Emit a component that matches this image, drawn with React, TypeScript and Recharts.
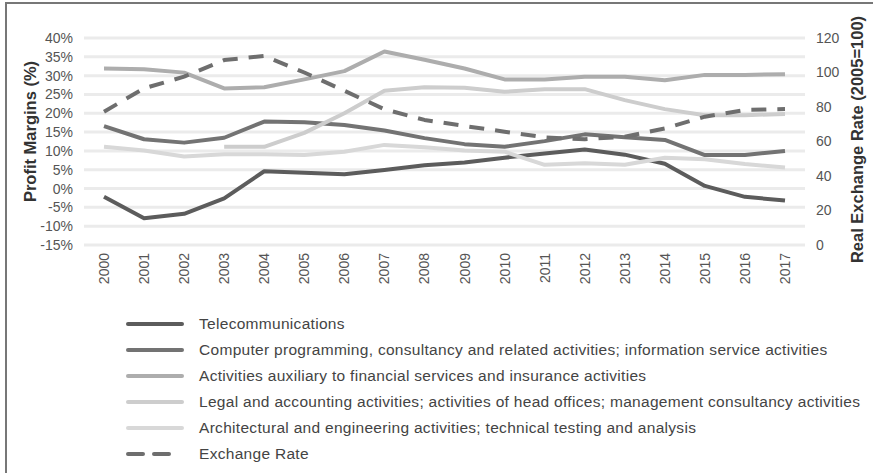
import React from 'react';
import { LineChart, Line, XAxis, YAxis, CartesianGrid } from 'recharts';

const years = ['2000', '2001', '2002', '2003', '2004', '2005', '2006', '2007', '2008', '2009', '2010', '2011', '2012', '2013', '2014', '2015', '2016', '2017'];

const telecom = [-2.2, -7.9, -6.7, -2.6, 4.6, 4.2, 3.8, 4.9, 6.2, 6.9, 8.2, 9.3, 10.4, 9.0, 6.6, 0.7, -2.2, -3.2];
const computing = [16.6, 13.1, 12.2, 13.5, 17.8, 17.6, 16.9, 15.4, 13.4, 11.8, 11.1, 12.6, 14.4, 13.6, 12.9, 8.9, 8.9, 10.0];
const financial = [31.9, 31.7, 30.8, 26.6, 26.9, 29.0, 31.2, 36.4, 34.2, 31.9, 29.0, 29.0, 29.7, 29.7, 28.8, 30.2, 30.2, 30.4];
const legal = [null, null, null, 11.1, 11.1, 14.8, 20.0, 26.0, 26.9, 26.8, 25.7, 26.4, 26.4, 23.5, 21.1, 19.5, 19.5, 19.8];
const architecture = [11.1, 10.1, 8.5, 9.1, 9.1, 8.9, 9.8, 11.6, 11.0, 10.1, 9.8, 6.3, 6.7, 6.3, 8.2, 7.8, 6.5, 5.6];
const exchangeRate = [77.3, 90.8, 97.6, 107.2, 109.6, 100, 89.4, 78.7, 72.5, 69.0, 65.7, 62.4, 61.3, 62.8, 67.6, 74.4, 78.3, 78.8];

const leftTicks = [-15, -10, -5, 0, 5, 10, 15, 20, 25, 30, 35, 40];
const rightTicks = [0, 20, 40, 60, 80, 100, 120];

const series = [
  { key: 'telecom', name: 'Telecommunications', color: '#5c5c5c', axis: 'left', dashed: false },
  { key: 'computing', name: 'Computer programming, consultancy and related activities; information service activities', color: '#737373', axis: 'left', dashed: false },
  { key: 'financial', name: 'Activities auxiliary to financial services and insurance activities', color: '#adadad', axis: 'left', dashed: false },
  { key: 'legal', name: 'Legal and accounting activities; activities of head offices; management consultancy activities', color: '#cdcdcd', axis: 'left', dashed: false },
  { key: 'architecture', name: 'Architectural and engineering activities; technical testing and analysis', color: '#d8d8d8', axis: 'left', dashed: false },
  { key: 'exchangeRate', name: 'Exchange Rate', color: '#6e6e6e', axis: 'right', dashed: true },
];

const data = years.map((year, i) => ({
  year,
  telecom: telecom[i],
  computing: computing[i],
  financial: financial[i],
  legal: legal[i],
  architecture: architecture[i],
  exchangeRate: exchangeRate[i],
}));

const FONT = '"Liberation Sans", Arial, sans-serif';
const DASH = '15 11';

const YearTick = ({ x, y, payload }: any) => (
  <text
    x={x}
    y={y}
    transform={`rotate(-90, ${x}, ${y})`}
    textAnchor="end"
    dominantBaseline="central"
    fontSize={14}
    fontFamily={FONT}
    fill="#555"
  >
    {payload.value}
  </text>
);

const AxisTitle = ({ viewBox, value, dx, dy }: any) => {
  const cx = viewBox.x + dx;
  const cy = viewBox.y + viewBox.height / 2 + dy;
  return (
    <text
      x={cx}
      y={cy}
      transform={`rotate(-90, ${cx}, ${cy})`}
      textAnchor="middle"
      dominantBaseline="central"
      fontSize={16.5}
      fontWeight="bold"
      fontFamily={FONT}
      fill="#333"
    >
      {value}
    </text>
  );
};

const LegendBox = () => (
  <div style={{ position: 'absolute', left: 126, top: 311, fontFamily: FONT }}>
    {series.map((s) => (
      <div key={s.key} style={{ display: 'flex', alignItems: 'center', height: 26 }}>
        <svg width={58} height={8} style={{ marginRight: 15 }}>
          <line
            x1={2}
            y1={4}
            x2={s.dashed ? 45 : 56}
            y2={4}
            stroke={s.color}
            strokeWidth={4}
            strokeDasharray={s.dashed ? DASH : undefined}
            strokeLinecap="round"
          />
        </svg>
        <span style={{ fontSize: 15.5, letterSpacing: 0.3, color: '#444', whiteSpace: 'nowrap' }}>{s.name}</span>
      </div>
    ))}
  </div>
);

export default function App() {
  return (
    <div style={{ position: 'absolute', left: 0, top: 0, width: 873, height: 473, background: '#fff', overflow: 'hidden' }}>
      <div
        style={{
          position: 'absolute',
          left: 5,
          top: 2,
          width: 868,
          height: 471,
          borderLeft: '2px solid #777',
          borderTop: '2px solid #777',
        }}
      />
      <LineChart
        width={873}
        height={473}
        data={data}
        margin={{ top: 38, right: 0, bottom: 188, left: 0 }}
      >
        <CartesianGrid yAxisId="left" vertical={false} stroke="#ebebeb" strokeWidth={3} />
        <XAxis
          dataKey="year"
          axisLine={false}
          tickLine={false}
          padding={{ left: 20, right: 20 }}
          interval={0}
          height={40}
          tick={<YearTick />}
          tickMargin={2}
        />
        <YAxis
          yAxisId="left"
          width={84}
          domain={[-15, 40]}
          ticks={leftTicks}
          interval={0}
          axisLine={false}
          tickLine={false}
          tickMargin={5}
          tickFormatter={(v: number) => `${v}%`}
          tick={{ fontSize: 14, fill: '#555', fontFamily: FONT }}
          label={<AxisTitle value="Profit Margins (%)" dx={30} dy={-10} />}
        />
        <YAxis
          yAxisId="right"
          orientation="right"
          width={68}
          domain={[0, 120]}
          ticks={rightTicks}
          interval={0}
          axisLine={false}
          tickLine={false}
          tickMargin={5}
          tick={{ fontSize: 14, fill: '#555', fontFamily: FONT, textAnchor: 'start' }}
          label={<AxisTitle value="Real Exchange Rate (2005=100)" dx={52} dy={-2} />}
        />
        {series.map((s) => (
          <Line
            key={s.key}
            yAxisId={s.axis}
            dataKey={s.key}
            name={s.name}
            type="linear"
            stroke={s.color}
            strokeWidth={4}
            strokeDasharray={s.dashed ? DASH : undefined}
            strokeLinejoin="round"
            dot={false}
            activeDot={false}
            isAnimationActive={false}
          />
        ))}
      </LineChart>
      <LegendBox />
    </div>
  );
}
